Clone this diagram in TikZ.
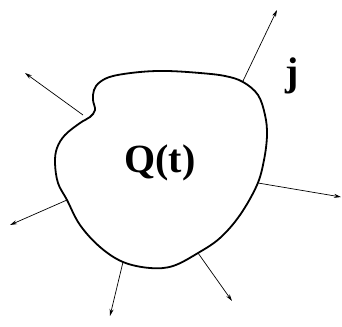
\documentclass[tikz,border=0pt]{standalone}
\usepackage{fontspec}
\setmainfont{Liberation Serif}
\usepackage{tikz}
\usetikzlibrary{arrows.meta,positioning}

\begin{document}
\begin{tikzpicture}[x=1pt,y=-1pt,>={Stealth[length=7pt,width=4pt]},
  flux/.style={->,line width=0.7pt},
  lbl/.style={font=\bfseries\fontsize{40}{40}\selectfont,inner sep=0pt}]
  \useasboundingbox (0,0) rectangle (342,326);
  % the region
  \draw[line width=1.8pt] plot[smooth cycle,tension=0.6] coordinates {
    (100,82) (113,76) (140,72) (167,71) (200,73) (225,76) (243,82)
    (258,95) (265,115) (267,135) (264,160) (257,185) (240,215)
    (220,238) (198,253) (173,266) (150,268) (123,262) (100,247)
    (80,225) (67,200) (58,183) (55,163) (57,148) (65,135) (80,123)
    (90,117) (95,110) (93,100) (94,90)};
  \node[lbl](Q) at (160,163){Q(t)};
  \node[lbl](j) at (292,76){j};
  % outward flux
  \coordinate (ne) at (243,81);   \coordinate (neh) at (277,10);
  \coordinate (nw) at (83,115);   \coordinate (nwh) at (25,73);
  \coordinate (e) at (258,183);   \coordinate (eh) at (341,197);
  \coordinate (w) at (67,200);    \coordinate (wh) at (10,225);
  \coordinate (sw) at (123,262);  \coordinate (swh) at (110,316);
  \coordinate (se) at (198,253);  \coordinate (seh) at (232,301);
  \draw[flux] (ne)--(neh);
  \draw[flux] (nw)--(nwh);
  \draw[flux] (e)--(eh);
  \draw[flux] (w)--(wh);
  \draw[flux] (sw)--(swh);
  \draw[flux] (se)--(seh);
\end{tikzpicture}
\end{document}
